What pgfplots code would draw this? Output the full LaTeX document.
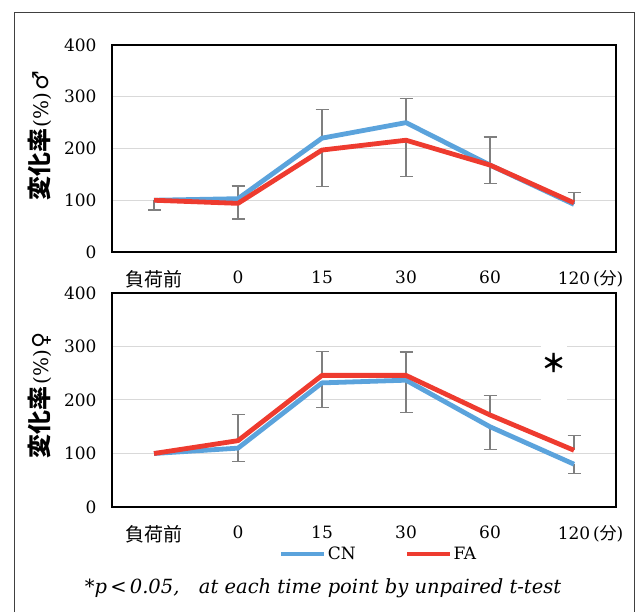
\documentclass[border=0pt]{standalone}
\usepackage{fontspec}
\usepackage{pgfplots}
\pgfplotsset{compat=1.18}
\setmainfont{DejaVu Serif}
\newfontfamily\cjk{Noto Sans CJK JP}
\newfontfamily\dejavu{DejaVu Sans}

\definecolor{cnblue}{HTML}{5BA3DC}
\definecolor{fared}{HTML}{EE3B2F}
\definecolor{errgray}{HTML}{7F7F7F}
\definecolor{gridgray}{HTML}{D9D9D9}
\definecolor{framegray}{HTML}{404040}

\pgfplotsset{
  panel/.style={
    scale only axis,
    width=504pt,
    xmin=-0.5, xmax=5.5,
    ymin=0, ymax=400,
    ytick={0,100,200,300,400},
    xtick={0,1,2,3,4,5},
    xticklabels={{\cjk\fontsize{19}{19}\selectfont 負荷前},0,15,30,60,{120\rlap{\,({\cjk 分})}}},
    major tick length=0pt,
    ymajorgrids,
    grid style={draw=gridgray, line width=1pt},
    axis line style={line width=1.3pt},
    /pgf/number format/assume math mode=true,
    tick label style={font=\fontsize{17}{17}\selectfont},
    yticklabel style={xshift=-12pt},
    xticklabel style={yshift=-15pt},
  },
  cnline/.style={cnblue, line width=4.8pt, line join=round},
  faline/.style={fared, line width=4.8pt, line join=round},
  ebar/.style={draw=none, forget plot,
    error bars/.cd, y dir=#1, y explicit,
    error bar style={draw=errgray, line width=1.3pt},
    error mark options={rotate=90, mark size=6.5pt, draw=errgray, line width=1.3pt}},
}

\begin{document}
\begin{tikzpicture}[x=1pt, y=1pt]
\useasboundingbox (0,0) rectangle (636,612);
\draw[framegray, line width=1pt] (14,0) -- (14,599) -- (634,599) -- (634,0);

% male
\begin{axis}[panel, at={(112pt,360pt)}, anchor=south west, height=207pt]
\addplot[ebar=plus] coordinates {(1,103) +- (0,24.5) (2,220) +- (0,56) (3,250) +- (0,46) (4,168) +- (0,54) (5,93) +- (0,22)};
\addplot[ebar=minus] coordinates {(0,100) +- (0,19) (1,94) +- (0,30) (2,197) +- (0,71) (3,216) +- (0,70) (4,168) +- (0,35)};
\addplot[cnline] coordinates {(0,100) (1,103) (2,220) (3,250) (4,168) (5,92)};
\addplot[faline] coordinates {(0,100) (1,94) (2,197) (3,216) (4,168) (5,95)};
\end{axis}

% female
\begin{axis}[panel, at={(112pt,105pt)}, anchor=south west, height=214pt,
  legend style={at={(0.528,-0.22)}, anchor=center, draw=none, fill=none,
    legend columns=2, font=\fontsize{17}{17}\selectfont,
    nodes={inner sep=1pt},
    /tikz/every even column/.append style={column sep=48pt}},
  legend image code/.code={\draw[#1] (0pt,0pt) -- (43pt,0pt);}]
\addplot[ebar=plus] coordinates {(1,124) +- (0,48.5) (2,246) +- (0,45) (3,246) +- (0,43.5) (4,172) +- (0,36) (5,106) +- (0,27)};
\addplot[ebar=minus] coordinates {(1,110) +- (0,25.6) (2,232) +- (0,46) (3,237) +- (0,60) (4,150) +- (0,42) (5,80) +- (0,17.5)};
\addplot[cnline] coordinates {(0,100) (1,110) (2,232) (3,237) (4,150) (5,80)};
\addplot[faline] coordinates {(0,100) (1,124) (2,246) (3,246) (4,172) (5,106)};
\legend{CN,FA}
\node[fill=white, minimum width=26pt, minimum height=58pt, inner sep=0pt] at (axis cs:4.76,250) {};
\node[inner sep=0pt] at (axis cs:4.76,269) {\cjk\bfseries\fontsize{25}{25}\selectfont ＊};
\end{axis}

\node[rotate=90] at (40pt,476pt) {{\cjk\bfseries\fontsize{24}{24}\selectfont 変化率}\,{\fontsize{20}{20}\selectfont (\%)}\,{\dejavu\fontsize{22}{22}\selectfont ♂}};
\node[rotate=90] at (40pt,217pt) {{\cjk\bfseries\fontsize{24}{24}\selectfont 変化率}\,{\fontsize{20}{20}\selectfont (\%)}\,{\dejavu\fontsize{22}{22}\selectfont ♀}};

\node at (323pt,24pt) {\fontsize{19.5}{19.5}\selectfont *\textit{p}\,<\,\textit{0.05,}\quad\textit{at each time point by unpaired t-test}};
\end{tikzpicture}
\end{document}
